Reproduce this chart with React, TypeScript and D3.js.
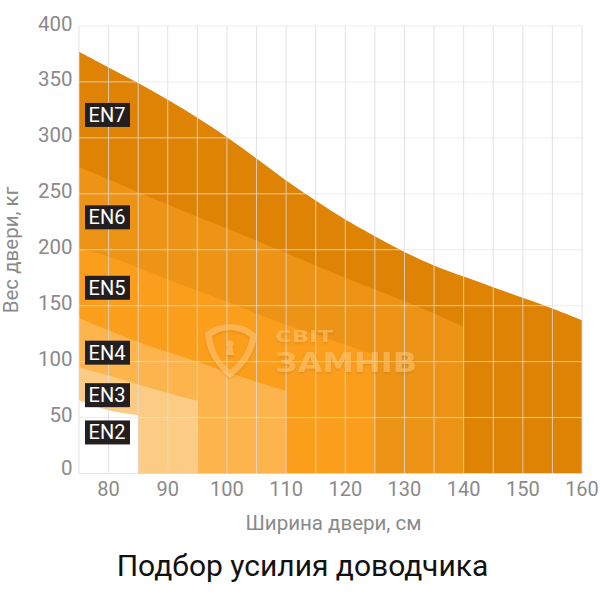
import React from "react";
import * as d3 from "d3";

const widths = [75,80,85,90,95,100,105,110,115,120,125,130,135,140,145,150,155,160];
const en7 = [377,363,349,334,318,300.5,281.5,262,244,227,212,198,186,176,166.5,157,147.5,137];
const en6 = [274,263,251.5,240.5,229.5,219,208,197,186,175,164.5,154,143,131];
const en5 = [201,194,184,173.5,163.5,153.5,143,133,124,115,106];
const en4 = [139,128,117.5,108.5,100,90.5,82,74];
const en3 = [95,87.5,79.5,72,65];
const en2 = [65.5,56.5,52];
const series = [
  { name: "EN7", values: en7, color: "#df8304" },
  { name: "EN6", values: en6, color: "#ed9416" },
  { name: "EN5", values: en5, color: "#fb9e1c" },
  { name: "EN4", values: en4, color: "#fdb44c" },
  { name: "EN3", values: en3, color: "#fdcc84" },
  { name: "EN2", values: en2, color: "#ffffff" },
];
const labels = [
  { name: "EN7", weight: 320.5 },
  { name: "EN6", weight: 229 },
  { name: "EN5", weight: 166 },
  { name: "EN4", weight: 108 },
  { name: "EN3", weight: 70 },
  { name: "EN2", weight: 36.7 },
];
const xTicks = [80,90,100,110,120,130,140,150,160];
const yTicks = [0,50,100,150,200,250,300,350,400];
const xGrid = d3.range(75, 161, 5);

const x = d3.scaleLinear().domain([75, 160]).range([79, 582]);
const y = d3.scaleLinear().domain([0, 400]).range([473.5, 26]);
const font = "Roboto, sans-serif";

export default function App() {
  const area = d3.area<number>()
    .x((_, i) => x(widths[i]))
    .y0(y(0))
    .y1((d) => y(d))
    .curve(d3.curveCatmullRom);
  return (
    <svg width={600} height={600} style={{ position: "absolute", left: 0, top: 0, background: "#fff" }}>
      <defs>
        <filter id="wm" x="-10%" y="-20%" width="120%" height="150%">
          <feDropShadow dx={0} dy={1.5} stdDeviation={1.2} floodColor="#9a5a00" floodOpacity={0.4} />
        </filter>
      </defs>
      {series.map((s) => (
        <path key={s.name} d={area(s.values) ?? ""} fill={s.color} />
      ))}
      {yTicks.map((t) => (
        <line key={t} x1={79} x2={582} y1={y(t)} y2={y(t)} stroke="#e4e4e8" strokeOpacity={0.7} strokeWidth={1} />
      ))}
      {xGrid.map((t) => (
        <line key={t} x1={x(t)} x2={x(t)} y1={26} y2={473.5} stroke="#dcdce0" strokeOpacity={0.8} strokeWidth={1} />
      ))}
      <g opacity={0.55} fill="#fdc878" filter="url(#wm)">
        <path
          fillRule="evenodd"
          d="M205 333 Q216 324 230 324 Q246 324 257 335 Q254 360 230 378 Q207 360 205 333 Z M212 336 Q214 356 230 370 Q247 356 250 337 Q240 330 230 330 Q220 330 212 336 Z"
        />
        <path d="M230 340 a4 4 0 0 1 2.4 7 l1.6 8 h-8 l1.6 -8 a4 4 0 0 1 2.4 -7 Z" />
        <text x={275} y={341.5} fontFamily="'DejaVu Sans', sans-serif" fontWeight={700} fontSize={15} textLength={58} lengthAdjust="spacingAndGlyphs">СВІТ</text>
        <text x={275} y={371.5} fontFamily="'DejaVu Sans', sans-serif" fontWeight={700} fontSize={26} textLength={142} lengthAdjust="spacingAndGlyphs">ЗАМНІВ</text>
      </g>
      {labels.map((l) => (
        <g key={l.name}>
          <rect x={85} y={y(l.weight) - 12} width={45} height={24} fill="#231f20" />
          <text x={107} y={y(l.weight) + 7} textAnchor="middle" fill="#fff" fontFamily={font} fontSize={20}>{l.name}</text>
        </g>
      ))}
      {yTicks.map((t) => (
        <text key={t} x={72.5} y={y(t) + (t === 0 ? 1.5 : 4.5)} textAnchor="end" fill="#8a8a8a" fontFamily={font} fontSize={20.5}>{t}</text>
      ))}
      {xTicks.map((t) => (
        <text key={t} x={x(t)} y={495.5} textAnchor="middle" fill="#8a8a8a" fontFamily={font} fontSize={20}>{t}</text>
      ))}
      <text x={333.5} y={530} textAnchor="middle" fill="#8a8a8a" fontFamily={font} fontSize={20.5}>Ширина двери, см</text>
      <text transform="translate(18,250) rotate(-90)" textAnchor="middle" fill="#8a8a8a" fontFamily={font} fontSize={20.5}>Вес двери, кг</text>
      <text x={302.5} y={576} textAnchor="middle" fill="#111" fontFamily={font} fontSize={30}>Подбор усилия доводчика</text>
    </svg>
  );
}
